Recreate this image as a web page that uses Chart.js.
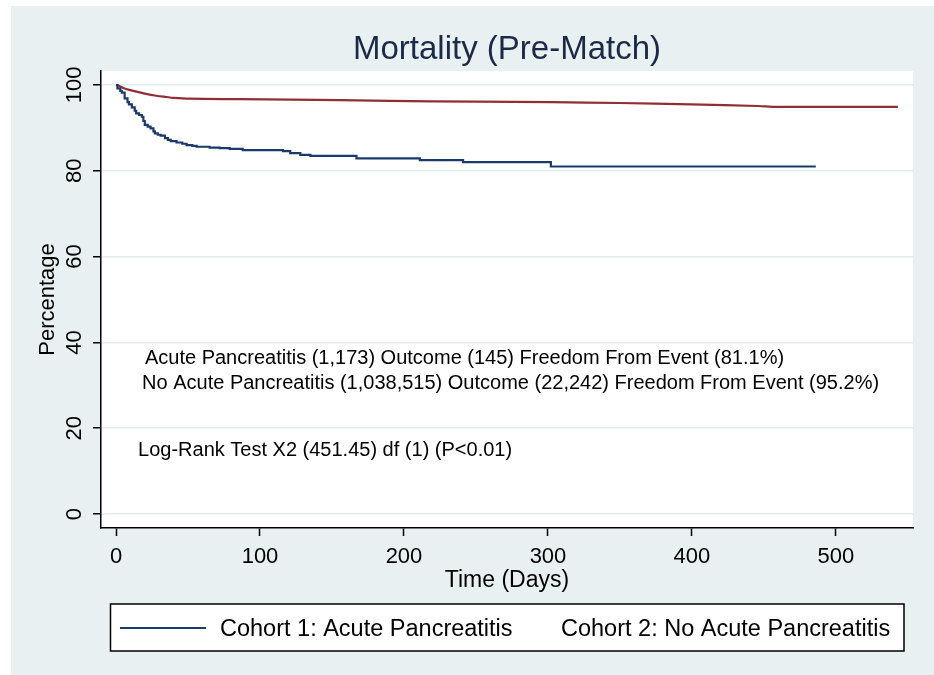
<!DOCTYPE html>
<html>
<head>
<meta charset="utf-8">
<script src="https://cdn.jsdelivr.net/npm/chart.js@4.4.1/dist/chart.umd.min.js"></script>
<style>
  html, body { margin: 0; padding: 0; background: #fff; }
  #wrap { position: absolute; left: 11px; top: 6px; }
</style>
</head>
<body>
<div id="wrap"><canvas id="kmChart" width="923" height="669"></canvas></div>
<script>
// axis ticks
const xTicks = [0, 100, 200, 300, 400, 500];
const yTicks = [0, 20, 40, 60, 80, 100];

const cohortNames = ["Cohort 1: Acute Pancreatitis", "Cohort 2: No Acute Pancreatitis"];

// cohort 1 (acute pancreatitis)
const apDays = [0, 1, 3, 4, 6, 8, 9, 11, 13, 14, 16, 18, 19, 20, 22, 24, 26, 27, 29, 31, 34, 36, 38, 42, 46, 49, 53, 56, 65, 72, 79, 88, 116, 121, 128, 135, 167, 211, 241, 302, 486];
const apSurv = [100, 99.2, 98.6, 98.2, 96.9, 96.0, 95.5, 94.8, 94.0, 93.4, 93.0, 92.6, 91.6, 90.7, 90.3, 89.9, 89.2, 88.7, 88.4, 88.2, 87.6, 87.2, 86.9, 86.6, 86.3, 86.0, 85.8, 85.6, 85.4, 85.3, 85.1, 84.8, 84.6, 84.1, 83.7, 83.5, 82.9, 82.5, 82.0, 81.0, 81.0];

// cohort 2 (no acute pancreatitis)
const noApDays = [0, 2, 5, 10, 15, 20, 28, 35, 40, 51, 86, 121, 190, 250, 303, 350, 399, 446, 458, 543];
const noApSurv = [100, 99.8, 99.3, 98.8, 98.4, 98.0, 97.5, 97.2, 97.0, 96.8, 96.7, 96.6, 96.3, 96.1, 96.0, 95.8, 95.5, 95.1, 94.9, 94.9];

const noteLines = [
  "Acute Pancreatitis (1,173) Outcome (145) Freedom From Event (81.1%)",
  "No Acute Pancreatitis (1,038,515) Outcome (22,242) Freedom From Event (95.2%)",
  "Log-Rank Test X2 (451.45) df (1) (P<0.01)"
];

const FONT = "'Liberation Sans', Arial, sans-serif";
const BLUE = "#1b3a6b";
const RED = "#8f2f35";

const bgPlugin = {
  id: "bg",
  beforeDraw(chart) {
    const { ctx, chartArea: ca } = chart;
    ctx.save();
    ctx.fillStyle = "#e8f0f2";
    ctx.fillRect(0, 0, chart.width, chart.height);
    ctx.fillStyle = "#fff";
    ctx.fillRect(ca.left, ca.top, ca.right - ca.left, ca.bottom - ca.top);
    ctx.restore();
  }
};

const notePlugin = {
  id: "notes",
  afterDraw(chart) {
    const { ctx, chartArea: ca, scales } = chart;
    ctx.save();
    ctx.fillStyle = "#000";
    ctx.textBaseline = "middle";
    ctx.textAlign = "left";
    ctx.font = "20px " + FONT;
    const at = [[20.1, 36.2], [18.1, 30.4], [15.3, 14.8]];
    noteLines.forEach((t, i) => {
      ctx.fillText(t, scales.x.getPixelForValue(at[i][0]), scales.y.getPixelForValue(at[i][1]));
    });

    // legend box
    const bl = ca.left + 9.5, br = ca.right - 9, bt = ca.bottom + 76, bb = ca.bottom + 123;
    ctx.fillStyle = "#fff";
    ctx.fillRect(bl, bt, br - bl, bb - bt);
    ctx.strokeStyle = "#000";
    ctx.lineWidth = 1.5;
    ctx.strokeRect(bl, bt, br - bl, bb - bt);
    const ly = ca.bottom + 100;
    ctx.strokeStyle = BLUE;
    ctx.lineWidth = 2;
    ctx.beginPath();
    ctx.moveTo(ca.left + 19, ly);
    ctx.lineTo(ca.left + 105, ly);
    ctx.stroke();
    ctx.fillStyle = "#000";
    ctx.font = "23.5px " + FONT;
    ctx.fillText(cohortNames[0], ca.left + 119, ly + 1.5);
    ctx.fillText(cohortNames[1], ca.left + 460, ly + 1.5);
    ctx.restore();
  }
};

const ctx = document.getElementById("kmChart").getContext("2d");
const chart = new Chart(ctx, {
  type: "line",
  data: {
    datasets: [{
      label: cohortNames[0],
      data: apDays.map((d, i) => ({ x: d, y: apSurv[i] })),
      borderColor: BLUE,
      borderWidth: 2.2,
      pointRadius: 0,
      stepped: true,
      fill: false
    }, {
      label: cohortNames[1],
      data: noApDays.map((d, i) => ({ x: d, y: noApSurv[i] })),
      borderColor: RED,
      borderWidth: 2.2,
      pointRadius: 0,
      tension: 0.3,
      fill: false
    }]
  },
  options: {
    responsive: false,
    animation: false,
    devicePixelRatio: 1,
    layout: { padding: { left: 0, right: 21, top: 0, bottom: 77 } },
    plugins: {
      legend: { display: false },
      tooltip: { enabled: false },
      title: {
        display: true,
        text: "Mortality (Pre-Match)",
        fullSize: false,
        color: "#1c2a48",
        font: { family: FONT, size: 33, weight: "normal" },
        padding: { top: 24, bottom: 1.4 }
      }
    },
    scales: {
      x: {
        type: "linear",
        min: -10.42,
        max: 553.5,
        afterBuildTicks: s => { s.ticks = xTicks.map(v => ({ value: v })); },
        afterFit: s => { s.height = 70; },
        grid: { drawOnChartArea: false, tickLength: 8, tickColor: "#000", tickWidth: 1.5 },
        border: { color: "#000", width: 1.5 },
        ticks: { color: "#000", font: { family: FONT, size: 22 }, padding: 8, maxRotation: 0, autoSkip: false },
        title: {
          display: true, text: "Time (Days)", color: "#000",
          font: { family: FONT, size: 23 }, padding: { top: 0, bottom: 3.7 }
        }
      },
      y: {
        type: "linear",
        min: -3.26,
        max: 103.26,
        afterBuildTicks: s => { s.ticks = yTicks.map(v => ({ value: v })); },
        afterFit: s => { s.width = 90; },
        grid: { color: "#e2ebee", lineWidth: 1.5, tickLength: 8, tickColor: "#000", tickWidth: 1.5 },
        border: { color: "#000", width: 1.5 },
        ticks: { color: "#000", font: { family: FONT, size: 22 }, padding: 0, minRotation: 90, maxRotation: 90, crossAlign: "center", autoSkip: false },
        title: {
          display: true, text: "Percentage", color: "#000",
          font: { family: FONT, size: 22 }, padding: { top: 23.8, bottom: 0 }
        }
      }
    }
  },
  plugins: [bgPlugin, notePlugin]
});
</script>
</body>
</html>
